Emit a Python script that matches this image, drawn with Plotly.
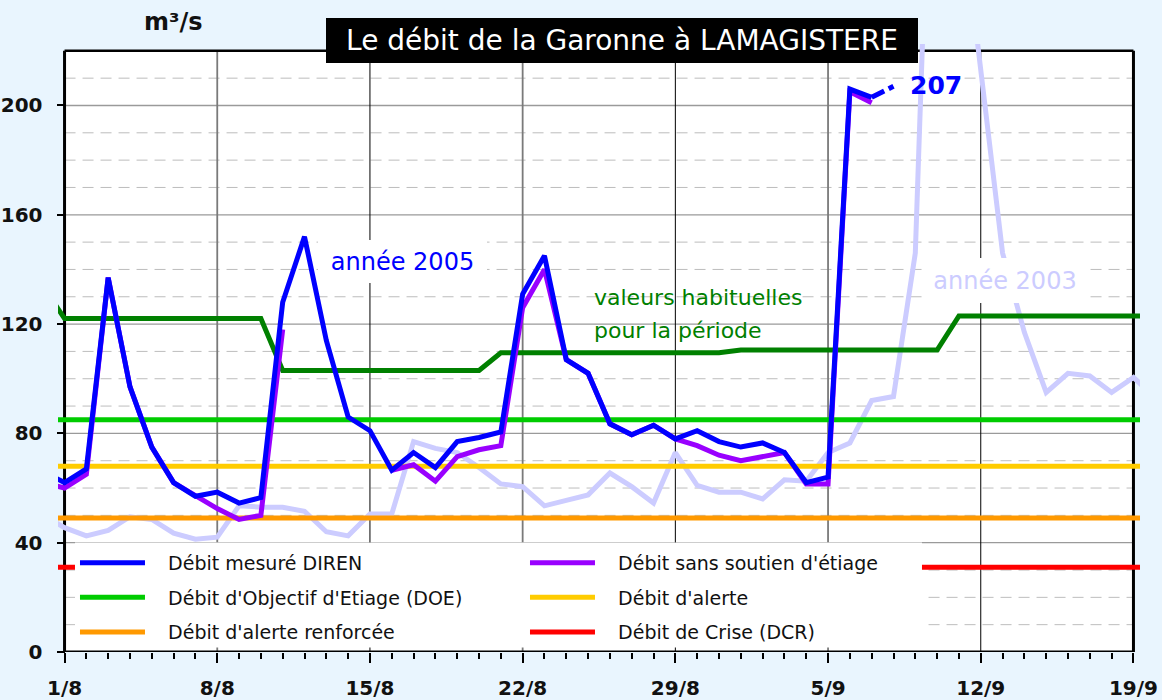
import plotly.graph_objects as go

# ---------------- data ----------------
# day offset from 1 August (-1 = 31/7, 50 = 20/9)
DAYS = [-1, 0, 1, 2, 3, 4, 5, 6, 7, 8, 9, 10, 11, 12, 13, 14, 15, 16, 17, 18, 19,
        20, 21, 22, 23, 24, 25, 26, 27, 28, 29, 30, 31, 32, 33, 34, 35, 36, 37, 38,
        39, 40, 41, 42, 43, 44, 45, 46, 47, 48, 49, 50]
TICK_DAYS = [0, 7, 14, 21, 28, 35, 42, 49]
TICK_LABELS = ["1/8", "8/8", "15/8", "22/8", "29/8", "5/9", "12/9", "19/9"]
Y_TICKS = [0, 40, 80, 120, 160, 200]

# Débit mesuré DIREN 2005 (days -1 .. 38, last value provisional)
DIREN_2005 = [66, 62, 67, 137, 97, 75, 62, 57, 58.5, 54.5, 56.5, 128, 152, 114, 86, 81,
              66.5, 73, 67.5, 77, 78.5, 80.5, 131, 145, 107, 102, 83.5, 79.5, 83, 78,
              81, 77, 75, 76.5, 73, 62, 64, 206, 203, 207]
# Débit sans soutien d'étiage (days -1 .. 37)
SANS_SOUTIEN = [62, 60, 65, 137, 97, 75, 62, 57, 52.5, 48.5, 50, 118, None, None, None,
                None, 66.5, 68.5, 62.5, 71.5, 74, 75.5, 126, 140, 107, 102, 83.5, 79.5,
                83, 78, 75.5, 72, 70, 71.5, 73, 61.5, 61.5, 205, 201]
# année 2003 (days -1 .. 50)
YEAR_2003 = [50, 45.5, 42.5, 44.5, 49.5, 48.5, 43.5, 41.3, 42, 53.5, 53, 53, 51.5, 44,
             42.5, 50.5, 50.5, 77, 74.5, 73, 67.5, 61.5, 60.5, 53.5, 55.5, 57.5, 65.5,
             60.5, 54.5, 73, 61, 58.5, 58.5, 56, 63, 62.5, 73, 76.5, 92, 93.5, 146,
             380, 280, 214, 146, 117, 95, 102, 101, 95, 100.5, 93]
# valeurs habituelles pour la période (days -1 .. 50)
VALEURS_HAB = [134, 122, 122, 122, 122, 122, 122, 122, 122, 122, 122,
               103, 103, 103, 103, 103, 103, 103, 103, 103, 103,
               109.5, 109.5, 109.5, 109.5, 109.5, 109.5, 109.5, 109.5, 109.5, 109.5, 109.5,
               110.5, 110.5, 110.5, 110.5, 110.5, 110.5, 110.5, 110.5, 110.5, 110.5,
               123, 123, 123, 123, 123, 123, 123, 123, 123, 123]

DOE = 85
ALERTE = 68
ALERTE_RENFORCEE = 49
DCR = 31

# ---------------- layout constants ----------------
X_RANGE = [-0.3, 49.3]
Y_RANGE = [0, 222.5]
Y_TOP = 220
X_END = 49
FONT = "DejaVu Sans"
BG = "#E9F5FE"
W = 5

fig = go.Figure()
ends = [DAYS[0], DAYS[-1]]
NB = "\u00a0\u00a0\u00a0"

fig.add_trace(go.Scatter(x=DAYS, y=YEAR_2003, mode="lines",
                         line=dict(color="#CCCCFF", width=W), showlegend=False, hoverinfo="skip"))
fig.add_trace(go.Scatter(x=ends, y=[DCR, DCR], mode="lines", name=NB + "Débit de Crise (DCR)",
                         line=dict(color="#FF0000", width=W), legend="legend2",
                         legendgroup="g6", legendrank=3))
fig.add_trace(go.Scatter(x=ends, y=[ALERTE_RENFORCEE, ALERTE_RENFORCEE], mode="lines",
                         name=NB + "Débit d'alerte renforcée",
                         line=dict(color="#FF9900", width=W), legend="legend",
                         legendgroup="g3", legendrank=3))
fig.add_trace(go.Scatter(x=ends, y=[ALERTE, ALERTE], mode="lines", name=NB + "Débit d'alerte",
                         line=dict(color="#FFCC00", width=W), legend="legend2",
                         legendgroup="g5", legendrank=2))
fig.add_trace(go.Scatter(x=ends, y=[DOE, DOE], mode="lines",
                         name=NB + "Débit d'Objectif d'Etiage (DOE)",
                         line=dict(color="#00CC00", width=W), legend="legend",
                         legendgroup="g2", legendrank=2))
fig.add_trace(go.Scatter(x=DAYS, y=VALEURS_HAB, mode="lines",
                         line=dict(color="#008000", width=W), showlegend=False))
fig.add_trace(go.Scatter(x=DAYS[:len(SANS_SOUTIEN)], y=SANS_SOUTIEN, mode="lines",
                         name=NB + "Débit sans soutien d'étiage", connectgaps=False,
                         line=dict(color="#9900FF", width=W), legend="legend2",
                         legendgroup="g4", legendrank=1))
n = len(DIREN_2005)
fig.add_trace(go.Scatter(x=DAYS[:n - 1], y=DIREN_2005[:n - 1], mode="lines",
                         name=NB + "Débit mesuré DIREN",
                         line=dict(color="#0000FF", width=W), legend="legend",
                         legendgroup="g1", legendrank=1))
fig.add_trace(go.Scatter(x=DAYS[n - 2:n], y=DIREN_2005[n - 2:n], mode="lines",
                         line=dict(color="#0000FF", width=W, dash="14px,5px,6px,20px"),
                         showlegend=False))

# ---------------- grid and frame (shapes) ----------------
shapes = [dict(type="rect", xref="x", yref="y", x0=0, x1=X_END, y0=0, y1=Y_TOP,
               fillcolor="white", line=dict(width=0), layer="below")]
for v in range(10, Y_TOP, 10):
    if v in Y_TICKS:
        continue
    shapes.append(dict(type="line", xref="x", yref="y", x0=0, x1=X_END, y0=v, y1=v,
                       line=dict(color="#BDBDBD", width=1, dash="11px,7px"), layer="below"))
for v in Y_TICKS[1:]:
    shapes.append(dict(type="line", xref="x", yref="y", x0=0, x1=X_END, y0=v, y1=v,
                       line=dict(color="#9A9A9A", width=1.3), layer="below"))
for i, d in enumerate(TICK_DAYS[1:-1]):
    gray = (i % 2 == 0)
    shapes.append(dict(type="line", xref="x", yref="y", x0=d, x1=d, y0=0, y1=Y_TOP,
                       line=dict(color="#7A7A7A" if gray else "#000000",
                                 width=1.8 if gray else 1), layer="below"))
# frame
shapes += [
    dict(type="line", xref="x", yref="y", x0=0, x1=X_END, y0=Y_TOP, y1=Y_TOP,
         line=dict(color="black", width=2.5), layer="below"),
    dict(type="line", xref="x", yref="y", x0=X_END, x1=X_END, y0=0, y1=Y_TOP,
         line=dict(color="black", width=3), layer="below"),
    dict(type="line", xref="x", yref="y", x0=0, x1=0, y0=0, y1=Y_TOP,
         line=dict(color="black", width=3), layer="below"),
    dict(type="line", xref="x", yref="y", x0=0, x1=X_END, y0=0, y1=0,
         line=dict(color="black", width=3), layer="below"),
]
# legend box
shapes.append(dict(type="rect", xref="paper", yref="paper", x0=0.0157, x1=0.7985,
                   y0=0.0074, y1=0.18, fillcolor="white", line=dict(width=0), layer="above"))

annotations = [
    dict(text="Le débit de la Garonne à LAMAGISTERE", xref="paper", yref="paper",
         x=0.5208, y=1.005, xanchor="center", yanchor="middle", showarrow=False,
         font=dict(family=FONT, size=28, color="white"), bgcolor="black",
         width=580, height=33, borderpad=6, borderwidth=0),
    dict(text="<b>m³/s</b>", xref="paper", yref="paper", x=0.1072, y=1.036, showarrow=False,
         xanchor="center", yanchor="middle", font=dict(family=FONT, size=24, color="#111")),
    dict(text="<b>207</b>", xref="x", yref="y", x=38.65, y=207.2, showarrow=False,
         xanchor="left", yanchor="middle", font=dict(family=FONT, size=25, color="#0000FF")),
    dict(text="année 2005", xref="x", yref="y", x=15.5, y=143, showarrow=False,
         xanchor="center", yanchor="middle", font=dict(family=FONT, size=24, color="#0000FF"),
         bgcolor="white", width=155, height=29, borderpad=7, borderwidth=0),
    dict(text="année 2003", xref="x", yref="y", x=43.12, y=136, showarrow=False,
         xanchor="center", yanchor="middle", font=dict(family=FONT, size=24, color="#CCCCFF"),
         bgcolor="white", width=150, height=35, borderpad=5, borderwidth=0),
    dict(text="valeurs habituelles", xref="x", yref="y", x=24.18, y=129.6, showarrow=False,
         xanchor="left", yanchor="middle", font=dict(family=FONT, size=22, color="#008000")),
    dict(text="pour la période", xref="x", yref="y", x=24.18, y=117.5, showarrow=False,
         xanchor="left", yanchor="middle", font=dict(family=FONT, size=22, color="#008000")),
]

legend_common = dict(xanchor="left", yanchor="top", y=0.178, bgcolor="rgba(0,0,0,0)",
                     font=dict(family=FONT, size=19, color="#111"), itemwidth=65,
                     traceorder="grouped", tracegroupgap=7, orientation="v",
                     borderwidth=0)

fig.update_layout(
    width=1162, height=700,
    margin=dict(l=58, r=22, t=44, b=47.5, pad=0, autoexpand=False),
    paper_bgcolor=BG, plot_bgcolor=BG,
    font=dict(family=FONT, color="#111"),
    showlegend=True,
    legend=dict(x=0.0157, **legend_common),
    legend2=dict(x=0.4316, **legend_common),
    shapes=shapes, annotations=annotations,
    xaxis=dict(range=X_RANGE, showgrid=False, zeroline=False, showline=False,
               automargin=False,
               tickmode="array", tickvals=TICK_DAYS, ticktext=TICK_LABELS,
               ticks="outside", ticklen=10, tickwidth=2, tickcolor="black",
               tickfont=dict(family=FONT, size=20, color="#111", weight="bold"),
               ticklabelstandoff=8,
               minor=dict(tickmode="linear", tick0=0, dtick=1, ticks="outside", ticklen=6,
                          tickwidth=1.5, tickcolor="black", showgrid=False)),
    yaxis=dict(range=Y_RANGE, showgrid=False, zeroline=False, showline=False,
               automargin=False,
               anchor="free", position=0.3 / 49.6,
               tickmode="array", tickvals=Y_TICKS, ticks="outside", ticklen=8,
               tickwidth=2, tickcolor="black",
               tickfont=dict(family=FONT, size=20, color="#111", weight="bold"),
               ticklabelstandoff=10),
)

fig.write_html("out.html", config={"displayModeBar": False},
               post_script="document.body.style.margin='0';document.body.style.background='%s';" % BG)
